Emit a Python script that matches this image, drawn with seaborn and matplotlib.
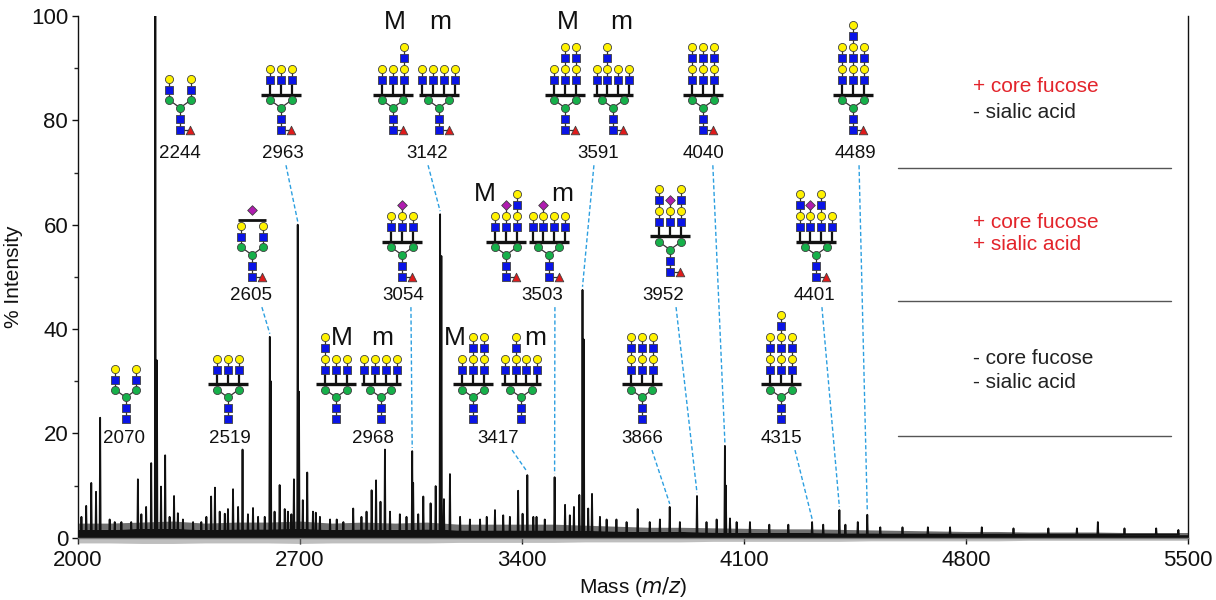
import numpy as np
import pandas as pd
import matplotlib
matplotlib.use("Agg")
import matplotlib.pyplot as plt
import seaborn as sns

# --- spectrum values (m/z, % intensity) ---
peak_mz = [2070, 2244, 2519, 2605, 2693, 2968, 3054, 3142, 3417, 3503,
           3591, 3866, 3952, 4040, 4315, 4401, 4489]
peak_int = [23, 100, 16.9, 38.5, 60, 16.9, 16.6, 62, 12, 11.6,
            47.5, 5.9, 8, 17.6, 3, 5.3, 4.4]

# lines sitting right next to the big peaks
shoulder_mz = [2249, 2608, 2697, 3057, 3146, 3595, 4043]
shoulder_int = [34, 30, 28, 10.5, 54, 38, 10]

# smaller unlabelled peaks
minor_mz = [2011, 2026, 2042, 2057, 2100, 2116, 2137, 2168, 2189, 2200,
            2215, 2231, 2262, 2275, 2289, 2303, 2315, 2331, 2363, 2389,
            2405, 2420, 2432, 2447, 2463, 2473, 2489, 2505, 2536, 2552,
            2568, 2589, 2620, 2636, 2652, 2662, 2673, 2681, 2709, 2723,
            2741, 2750, 2763, 2795, 2816, 2837, 2868, 2894, 2910, 2926,
            2940, 2954, 2984, 3015, 3036, 3073, 3089, 3112, 3128, 3154,
            3173, 3205, 3236, 3268, 3289, 3315, 3341, 3362, 3388, 3402,
            3436, 3446, 3472, 3536, 3551, 3564, 3581, 3609, 3621, 3646,
            3667, 3698, 3730, 3765, 3803, 3835, 3898, 3982, 4014, 4056,
            4077, 4119, 4180, 4240, 4350, 4420, 4459, 4530, 4600, 4680,
            4750, 4850, 4950, 5060, 5150, 5216, 5300, 5400, 5470]
minor_int = [4, 6.1, 10.5, 8.8, 3.5, 3, 3, 3, 11.2, 4.5,
             5.9, 14.3, 9.8, 15.8, 4, 8, 4.7, 3.5, 3, 3,
             4, 7.9, 9.6, 5, 4.6, 5.5, 9.3, 5.9, 4.5, 5.7,
             4, 4, 5, 10.1, 5.5, 5, 4.5, 11.2, 7.2, 12.5,
             5, 4.8, 4, 3.5, 3.5, 3, 5.6, 4, 5, 9.1,
             11, 6.9, 5, 4.5, 4, 4.5, 7.9, 6.6, 9.9, 7.4,
             12.2, 4, 3.5, 3.5, 4, 5.3, 4.3, 4, 9, 4.6,
             4, 4, 3.5, 6.3, 4.3, 5.9, 8.2, 5.6, 8.4, 4,
             3.5, 3.5, 3, 5.5, 3, 3.5, 3, 3, 3.5, 3.7,
             3, 3, 2.5, 2.5, 2.5, 2.5, 3, 2, 2, 2,
             2, 2, 1.8, 1.8, 1.8, 3, 1.8, 1.8, 1.5]

# baseline "grass" envelope, every 100 Da
noise_mz = list(range(2000, 5501, 100))
noise_top = [2.8, 2.8, 3.0, 3.2, 2.8, 3.0, 3.0, 3.2, 2.8, 3.0, 2.8, 3.0,
             2.6, 2.6, 2.6, 2.6, 2.4, 2.2, 2.0, 2.0, 1.9, 1.8, 1.7, 1.7,
             1.6, 1.5, 1.4, 1.3, 1.2, 1.2, 1.1, 1.1, 1.1, 1.0, 1.0, 1.0]
noise_core = [1.6, 1.6, 1.8, 1.8, 1.6, 1.7, 1.7, 1.8, 1.6, 1.7, 1.6, 1.7,
              1.5, 1.5, 1.5, 1.5, 1.4, 1.3, 1.2, 1.2, 1.1, 1.0, 1.0, 1.0,
              0.9, 0.9, 0.8, 0.8, 0.7, 0.7, 0.7, 0.7, 0.7, 0.6, 0.6, 0.6]
noise_low = [-1.0, -1.0, -1.1, -1.1, -1.0, -1.0, -1.0, -1.1, -1.0, -1.0, -1.0, -1.0,
             -0.9, -0.9, -0.9, -0.9, -0.8, -0.8, -0.8, -0.8, -0.7, -0.7, -0.7, -0.7,
             -0.7, -0.6, -0.6, -0.6, -0.6, -0.6, -0.5, -0.5, -0.5, -0.5, -0.5, -0.5]

# --- glycan cartoons: (bar, core fucose, antennae chains, sialic bar on top) ---
# S = GlcNAc, G = Gal, D = NeuAc
glycans = {
    "2070":  (False, False, ["SG", "SG"], False),
    "2244":  (False, True, ["SG", "SG"], False),
    "2519":  (True, False, ["SG", "SG", "SG"], False),
    "2605":  (False, True, ["SG", "SG"], True),
    "2963":  (True, True, ["SG", "SG", "SG"], False),
    "2968M": (True, False, ["SGSG", "SG", "SG"], False),
    "2968m": (True, False, ["SG", "SG", "SG", "SG"], False),
    "3054":  (True, True, ["SG", "SGD", "SG"], False),
    "3142M": (True, True, ["SG", "SG", "SGSG"], False),
    "3142m": (True, True, ["SG", "SG", "SG", "SG"], False),
    "3417M": (True, False, ["SG", "SGSG", "SGSG"], False),
    "3417m": (True, False, ["SG", "SGSG", "SG", "SG"], False),
    "3503M": (True, True, ["SG", "SGD", "SGSG"], False),
    "3503m": (True, True, ["SG", "SGD", "SG", "SG"], False),
    "3591M": (True, True, ["SG", "SGSG", "SGSG"], False),
    "3591m": (True, True, ["SG", "SGSG", "SG", "SG"], False),
    "3866":  (True, False, ["SGSG", "SGSG", "SGSG"], False),
    "3952":  (True, True, ["SGSG", "SGD", "SGSG"], False),
    "4040":  (True, True, ["SGSG", "SGSG", "SGSG"], False),
    "4315":  (True, False, ["SGSG", "SGSGSG", "SGSG"], False),
    "4401":  (True, True, ["SGSG", "SGD", "SGSG", "SG"], False),
    "4489":  (True, True, ["SGSG", "SGSGSG", "SGSG"], False),
}

# label text, label x/y, leader start x (None = no leader), peak m/z, glycans (core x, core y, key)
annotations = [
    ("2070", 2145, 19.1, None, 2070, [(2151, 26.9, "2070")]),
    ("2244", 2322, 73.7, None, 2244, [(2322, 82.4, "2244")]),
    ("2519", 2479, 19.1, None, 2519, [(2473, 26.9, "2519")]),
    ("2605", 2546, 46.5, 2580, 2605, [(2549, 54.2, "2605")]),
    ("2963", 2646, 73.7, 2656, 2693, [(2640, 82.4, "2963")]),
    ("2968", 2930, 19.1, None, 2968, [(2814, 26.9, "2968M"), (2955, 26.9, "2968m")]),
    ("3054", 3025, 46.5, 3050, 3054, [(3022, 54.2, "3054")]),
    ("3142", 3100, 73.7, 3104, 3142, [(2993, 82.4, "3142M"), (3138, 82.4, "3142m")]),
    ("3417", 3324, 19.1, 3369, 3417, [(3246, 26.9, "3417M"), (3397, 26.9, "3417m")]),
    ("3503", 3463, 46.5, 3504, 3503, [(3350, 54.2, "3503M"), (3485, 54.2, "3503m")]),
    ("3591", 3640, 73.7, 3627, 3591, [(3536, 82.4, "3591M"), (3687, 82.4, "3591m")]),
    ("3866", 3778, 19.1, 3810, 3866, [(3778, 26.9, "3866")]),
    ("3952", 3845, 46.5, 3886, 3952, [(3867, 55.2, "3952")]),
    ("4040", 3974, 73.7, 4002, 4040, [(3971, 82.4, "4040")]),
    ("4315", 4217, 19.1, 4261, 4315, [(4217, 26.9, "4315")]),
    ("4401", 4321, 46.5, 4346, 4401, [(4327, 54.2, "4401")]),
    ("4489", 4453, 73.7, 4463, 4489, [(4444, 82.4, "4489")]),
]

isomer_letters = [("M", 3000, 98.8), ("m", 3141, 98.8), ("M", 3545, 98.8), ("m", 3712, 98.8),
                  ("M", 3283, 65.9), ("m", 3526, 65.9), ("M", 2832, 38.3), ("m", 2959, 38.3),
                  ("M", 3189, 38.3), ("m", 3441, 38.3)]

legend_groups = [
    [("+ core fucose", "#e3242b", 86.4), ("- sialic acid", "#222222", 81.6)],
    [("+ core fucose", "#e3242b", 60.5), ("+ sialic acid", "#e3242b", 56.3)],
    [("- core fucose", "#222222", 34.4), ("- sialic acid", "#222222", 29.8)],
]
separator_y = [70.9, 45.4, 19.5]

sns.set_theme(style="ticks")
plt.rcParams["font.family"] = ["Liberation Sans", "DejaVu Sans"]

fig = plt.figure(figsize=(12.16, 6.0), dpi=100)
ax = fig.add_axes([0.0641, 0.1038, 0.9128, 0.8695])

# baseline noise band
ax.fill_between(noise_mz, noise_low, 0, color="#8a8a8a", alpha=0.55, lw=0, clip_on=False, zorder=1)
ax.fill_between(noise_mz, 0, noise_core, color="#111111", lw=0, zorder=2)
ax.fill_between(noise_mz, noise_core, noise_top, color="#111111", alpha=0.6, lw=0, zorder=2)

# stick spectrum
pairs = sorted(zip(peak_mz + shoulder_mz + minor_mz, peak_int + shoulder_int + minor_int))
rows = []
for m, h in pairs:
    rows += [(m - 1.6, 0.6), (m, h), (m + 1.6, 0.6)]
spec = pd.DataFrame(rows, columns=["mz", "intensity"])
sns.lineplot(data=spec, x="mz", y="intensity", sort=False, estimator=None,
             color="#111111", lw=1.3, legend=False, ax=ax, zorder=3)

ax.set_xlim(2000, 5500)
ax.set_ylim(0, 100)

# symbol unit in data coordinates (about 10.6 px)
UX = 10.6 * 3500 / 1110
UY = 10.6 / 5.217
STYLE = {"S": ("s", "#0a14e6", 36), "G": ("o", "#fff200", 34), "M": ("o", "#16b04a", 34),
         "F": ("^", "#e01b1b", 38), "D": ("D", "#b01cb0", 24)}


def draw_glycan(cx, cy, bar, fuc, antennae, sia_bar):
    pts, thin, thick = [], [], []
    pts += [(0, 0, "M"), (0, -1.03, "S"), (0, -2.06, "S")]
    thin.append(((0, 0), (0, -2.06)))
    if fuc:
        pts.append((0.95, -2.06, "F"))
        thin.append(((0, -2.06), (0.95, -2.06)))
    for sx in (-1, 1):
        pts.append((sx, 0.72, "M"))
        thin.append(((0, 0), (sx, 0.72)))
    if bar:
        n = len(antennae)
        thick.append(((-1.88, 1.25), (1.88, 1.25), 2.4))
        for i, chain in enumerate(antennae):
            x0 = (i - (n - 1) / 2) * 1.03
            thick.append(((x0, 1.25), (x0, 2.6), 1.6))
            top = 2.6 + 1.04 * (len(chain) - 1)
            thin.append(((x0, 2.6), (x0, top)))
            for k, r in enumerate(chain):
                pts.append((x0, 2.6 + 1.04 * k, r))
    else:
        for sx, chain in zip((-1, 1), antennae):
            top = 1.67 + 1.04 * (len(chain) - 1)
            thin.append(((sx, 0.72), (sx, top)))
            for k, r in enumerate(chain):
                pts.append((sx, 1.67 + 1.04 * k, r))
    if sia_bar:
        thick.append(((-1.28, 3.34), (1.28, 3.34), 2.0))
        pts.append((0, 4.25, "D"))

    for (a, b) in thin:
        ax.plot([cx + a[0] * UX, cx + b[0] * UX], [cy + a[1] * UY, cy + b[1] * UY],
                color="#333333", lw=0.9, zorder=5, clip_on=False)
    for (a, b, w) in thick:
        ax.plot([cx + a[0] * UX, cx + b[0] * UX], [cy + a[1] * UY, cy + b[1] * UY],
                color="#111111", lw=w, zorder=5, solid_capstyle="butt", clip_on=False)
    for kind, (mk, col, s) in STYLE.items():
        sel = [(cx + p[0] * UX, cy + p[1] * UY) for p in pts if p[2] == kind]
        if sel:
            xs, ys = zip(*sel)
            ax.scatter(xs, ys, marker=mk, s=s, c=col, edgecolors="#404040",
                       linewidths=0.6, zorder=6, clip_on=False)


peak_top = dict(zip(peak_mz, peak_int))
for text, lx, ly, lead_x, pk, gl in annotations:
    ax.text(lx, ly, text, fontsize=13.5, ha="center", va="center", color="#111111", zorder=7)
    if lead_x is not None:
        ax.plot([lead_x, pk], [ly - 2.3, peak_top[pk] + 0.6], color="#2c9fe0",
                lw=1.0, ls=(0, (3, 1.8)), zorder=4)
    for gx, gy, key in gl:
        draw_glycan(gx, gy, *glycans[key])

for t, x, y in isomer_letters:
    ax.text(x, y, t, fontsize=19, ha="center", va="center", color="#111111", zorder=7)

for group in legend_groups:
    for t, col, y in group:
        ax.text(4822, y, t, fontsize=15, ha="left", va="center", color=col)
for y in separator_y:
    ax.plot([4586, 5447], [y, y], color="#555555", lw=1.0)

# axes styling
ax.spines["top"].set_visible(False)
ax.spines["right"].set_color("#111111")
ax.spines["left"].set_color("#111111")
ax.spines["bottom"].set_color("#777777")
for s in ("left", "right", "bottom"):
    ax.spines[s].set_linewidth(1.0)
ax.set_xticks([2000, 2700, 3400, 4100, 4800, 5500])
ax.set_yticks([0, 20, 40, 60, 80, 100])
ax.set_yticks(range(10, 100, 20), minor=True)
ax.tick_params(axis="both", which="major", labelsize=16, length=4, width=1.0,
               direction="out", colors="#111111")
ax.tick_params(axis="y", which="major", pad=3)
ax.tick_params(axis="x", which="major", pad=5)
ax.tick_params(axis="y", which="minor", length=3, width=1.0)
ax.set_xlabel("Mass ($\\it{m/z}$)", fontsize=15, labelpad=3, color="#111111")
ax.set_ylabel("% Intensity", fontsize=15, labelpad=6, color="#111111")

fig.savefig("out.png", dpi=100)
